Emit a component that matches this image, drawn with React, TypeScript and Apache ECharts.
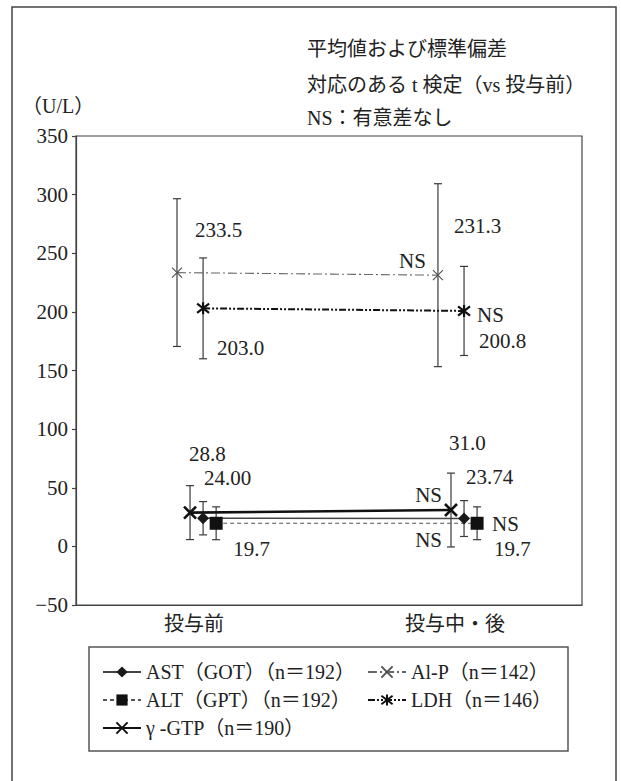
import React, { useEffect, useRef } from 'react';
import * as echarts from 'echarts';

// Stages on the x-axis
const stages = ['投与前', '投与中・後'];

// Mean and standard deviation (U/L) for each enzyme: [投与前, 投与中・後]
const astMean = [24.0, 23.74];
const astSd = [14.2, 15.3];
const altMean = [19.7, 19.7];
const altSd = [14.0, 14.0];
const ggtMean = [28.8, 31.0];
const ggtSd = [23.0, 31.5];
const alpMean = [233.5, 231.3];
const alpSd = [63.0, 78.0];
const ldhMean = [203.0, 200.8];
const ldhSd = [43.0, 38.0];

// Number of patients per enzyme
const astN = 192;
const altN = 192;
const ggtN = 190;
const alpN = 142;
const ldhN = 146;

// Paired t-test vs 投与前, shown at 投与中・後
const astTest = 'NS';
const altTest = 'NS';
const ggtTest = 'NS';
const alpTest = 'NS';
const ldhTest = 'NS';

// Notes and unit
const notes = ['平均値および標準偏差', '対応のある t 検定（vs 投与前）', 'NS：有意差なし'];
const unitLabel = '（U/L）';

// Y-axis range
const yMin = -50;
const yMax = 350;
const yStep = 50;

const SERIF = 'Liberation Serif, Noto Sans CJK JP, serif';
const font = (px: number) => `${px}px "Liberation Serif", "Noto Sans CJK JP", serif`;
const INK = '#222';

const X_SHAPE = 'path://M0,0L10,10M10,0L0,10';
const STAR_SHAPE = 'path://M0,0L10,10M10,0L0,10M5,-1.5L5,11.5';

type Enzyme = {
  id: string;
  name: string;
  mean: number[];
  sd: number[];
  test: string;
  digits: number;
  shift: number;
  symbol: string;
  symbolSize: number;
  fill: string;
  border: string;
  borderWidth: number;
  line: { color: string; width: number; type: any };
};

const enzymes: Enzyme[] = [
  {
    id: 'alp', name: `Al-P（n＝${alpN}）`, mean: alpMean, sd: alpSd, test: alpTest, digits: 1,
    shift: -0.065, symbol: X_SHAPE, symbolSize: 10, fill: '#555', border: '#555', borderWidth: 1.2,
    line: { color: '#666', width: 1.1, type: [9, 3, 2, 3] },
  },
  {
    id: 'ggt', name: `γ -GTP（n＝${ggtN}）`, mean: ggtMean, sd: ggtSd, test: ggtTest, digits: 1,
    shift: -0.015, symbol: X_SHAPE, symbolSize: 12, fill: '#111', border: '#111', borderWidth: 2.6,
    line: { color: '#111', width: 2.6, type: 'solid' },
  },
  {
    id: 'ast', name: `AST（GOT）（n＝${astN}）`, mean: astMean, sd: astSd, test: astTest, digits: 2,
    shift: 0.035, symbol: 'diamond', symbolSize: 12, fill: '#1a1a1a', border: '#1a1a1a', borderWidth: 0,
    line: { color: '#444', width: 1.6, type: 'solid' },
  },
  {
    id: 'ldh', name: `LDH（n＝${ldhN}）`, mean: ldhMean, sd: ldhSd, test: ldhTest, digits: 1,
    shift: 0.035, symbol: STAR_SHAPE, symbolSize: 12, fill: '#111', border: '#111', borderWidth: 2.2,
    line: { color: '#111', width: 2, type: [7, 2, 2, 2, 2, 2] },
  },
  {
    id: 'alt', name: `ALT（GPT）（n＝${altN}）`, mean: altMean, sd: altSd, test: altTest, digits: 1,
    shift: 0.085, symbol: 'rect', symbolSize: 13, fill: '#111', border: '#111', borderWidth: 0,
    line: { color: '#555', width: 1, type: [4, 3] },
  },
];

const byId = (id: string) => enzymes.find((e) => e.id === id) as Enzyme;

// Where each annotation sits relative to its marker (pixels, text-centre offset)
type LabelSpec = { id: string; stage: number; kind: 'value' | 'test'; align: string; dx: number; dy: number };
const labelSpecs: LabelSpec[] = [
  { id: 'alp', stage: 0, kind: 'value', align: 'left', dx: 18, dy: -43 },
  { id: 'alp', stage: 1, kind: 'value', align: 'left', dx: 16, dy: -49 },
  { id: 'alp', stage: 1, kind: 'test', align: 'right', dx: -12, dy: -14 },
  { id: 'ldh', stage: 0, kind: 'value', align: 'left', dx: 14, dy: 40 },
  { id: 'ldh', stage: 1, kind: 'value', align: 'left', dx: 15, dy: 30 },
  { id: 'ldh', stage: 1, kind: 'test', align: 'left', dx: 13, dy: 4 },
  { id: 'ggt', stage: 0, kind: 'value', align: 'left', dx: -1, dy: -59 },
  { id: 'ggt', stage: 1, kind: 'value', align: 'left', dx: -2, dy: -67 },
  { id: 'ggt', stage: 1, kind: 'test', align: 'right', dx: -9, dy: -15 },
  { id: 'ast', stage: 0, kind: 'value', align: 'left', dx: 1, dy: -40 },
  { id: 'ast', stage: 1, kind: 'value', align: 'left', dx: 2, dy: -42 },
  { id: 'ast', stage: 1, kind: 'test', align: 'right', dx: -22, dy: 21 },
  { id: 'alt', stage: 0, kind: 'value', align: 'left', dx: 17, dy: 26 },
  { id: 'alt', stage: 1, kind: 'value', align: 'left', dx: 17, dy: 26 },
  { id: 'alt', stage: 1, kind: 'test', align: 'left', dx: 15, dy: 1 },
];

const labelText = (s: LabelSpec) => {
  const e = byId(s.id);
  return s.kind === 'value' ? e.mean[s.stage].toFixed(e.digits) : e.test;
};

const LABEL_PX = 21;

function buildOption() {
  const lineSeries = enzymes.map((e) => ({
    type: 'line',
    name: e.name,
    z: 3,
    data: e.mean.map((m, i) => [i + e.shift, m]),
    symbol: e.symbol,
    symbolSize: e.symbolSize,
    showAllSymbol: true,
    itemStyle: { color: e.fill, borderColor: e.border, borderWidth: e.borderWidth },
    lineStyle: { color: e.line.color, width: e.line.width, type: e.line.type },
    emphasis: { disabled: true },
  }));

  const errorData: number[][] = [];
  enzymes.forEach((e) => {
    e.mean.forEach((m, i) => errorData.push([i + e.shift, m - e.sd[i], m + e.sd[i]]));
  });

  const errorSeries = {
    type: 'custom',
    z: 2,
    silent: true,
    data: errorData,
    encode: { x: 0, y: [1, 2] },
    renderItem: (_params: any, api: any) => {
      const x = api.value(0);
      const lo = api.coord([x, api.value(1)]);
      const hi = api.coord([x, api.value(2)]);
      const cap = 4;
      const style = { stroke: '#3a3a3a', lineWidth: 1.2 };
      return {
        type: 'group',
        children: [
          { type: 'line', shape: { x1: lo[0], y1: lo[1], x2: hi[0], y2: hi[1] }, style },
          { type: 'line', shape: { x1: lo[0] - cap, y1: lo[1], x2: lo[0] + cap, y2: lo[1] }, style },
          { type: 'line', shape: { x1: hi[0] - cap, y1: hi[1], x2: hi[0] + cap, y2: hi[1] }, style },
        ],
      };
    },
  };

  const labelSeries = {
    type: 'custom',
    z: 4,
    silent: true,
    clip: false,
    data: labelSpecs.map((s) => {
      const e = byId(s.id);
      return [s.stage + e.shift, e.mean[s.stage]];
    }),
    encode: { x: 0, y: 1 },
    renderItem: (params: any, api: any) => {
      const s = labelSpecs[params.dataIndex];
      const p = api.coord([api.value(0), api.value(1)]);
      const style: any = { text: labelText(s), font: font(LABEL_PX), fill: INK };
      if (s.align === 'right') style.align = 'right';
      return {
        type: 'text',
        x: p[0] + s.dx,
        y: p[1] + s.dy - LABEL_PX / 2,
        style,
      };
    },
  };

  const legendCommon = {
    orient: 'vertical',
    top: 662,
    padding: 0,
    itemWidth: 38,
    itemHeight: 14,
    itemGap: 8,
    selectedMode: false,
    textStyle: { fontSize: 20, fontFamily: SERIF, color: INK, lineHeight: 20 },
  };

  const axisLineStyle = { color: '#444', width: 1.2 };

  return {
    animation: false,
    backgroundColor: '#fff',
    textStyle: { fontFamily: SERIF },
    grid: {
      left: 76,
      top: 136,
      width: 506,
      height: 469,
      show: true,
      borderColor: '#444',
      borderWidth: 1.2,
    },
    xAxis: {
      type: 'value',
      min: -0.452,
      max: 1.487,
      axisLine: { show: true, onZero: false, lineStyle: axisLineStyle },
      axisTick: { show: false },
      splitLine: { show: false },
      axisLabel: {
        customValues: [0, 1],
        formatter: (v: number) => stages[Math.round(v)] ?? '',
        fontSize: 20,
        fontFamily: SERIF,
        color: INK,
        margin: 9,
      },
    },
    yAxis: {
      type: 'value',
      min: yMin,
      max: yMax,
      interval: yStep,
      axisLine: { show: true, onZero: false, lineStyle: axisLineStyle },
      axisTick: { show: true, length: 4, lineStyle: axisLineStyle },
      splitLine: { show: false },
      axisLabel: {
        fontSize: 21,
        fontFamily: SERIF,
        color: INK,
        margin: 8,
        formatter: (v: number) => (v < 0 ? '−' + Math.abs(v) : String(v)),
      },
    },
    legend: [
      { ...legendCommon, left: 102, data: [byId('ast').name, byId('alt').name, byId('ggt').name] },
      { ...legendCommon, left: 367, data: [byId('alp').name, byId('ldh').name] },
    ],
    graphic: [
      {
        type: 'rect',
        silent: true,
        shape: { x: 12, y: 7, width: 604, height: 800 },
        style: { fill: 'none', stroke: '#444', lineWidth: 1.5 },
      },
      {
        type: 'rect',
        silent: true,
        shape: { x: 89, y: 647, width: 479, height: 104 },
        style: { fill: 'none', stroke: '#555', lineWidth: 1.5 },
      },
      ...notes.map((t, i) => ({
        type: 'text',
        silent: true,
        x: 307,
        y: [39, 75, 108][i],
        style: { text: t, font: font(20), fill: INK },
      })),
      {
        type: 'text',
        silent: true,
        x: 22,
        y: 96,
        style: { text: unitLabel, font: font(20), fill: INK },
      },
    ],
    series: [errorSeries, ...lineSeries, labelSeries],
  };
}

export default function App() {
  const ref = useRef<HTMLDivElement>(null);

  useEffect(() => {
    if (!ref.current) return;
    document.body.style.margin = '0';
    const chart = echarts.init(ref.current, undefined, { renderer: 'svg' });
    chart.setOption(buildOption() as any);

    // Re-draw once the serif face is ready so text metrics and glyphs agree
    let alive = true;
    const fonts = (document as any).fonts;
    if (fonts && fonts.load) {
      Promise.all([
        fonts.load('20px "Liberation Serif"', 'NS 0123456789'),
        fonts.load('20px "Noto Sans CJK JP"', '投与前'),
      ])
        .then(() => {
          if (!alive) return;
          chart.clear();
          chart.setOption(buildOption() as any);
        })
        .catch(() => {});
    }

    return () => {
      alive = false;
      chart.dispose();
    };
  }, []);

  return (
    <div>
      <div ref={ref} style={{ width: 621, height: 781, background: '#fff', fontFamily: 'Liberation Serif' }} />
    </div>
  );
}
